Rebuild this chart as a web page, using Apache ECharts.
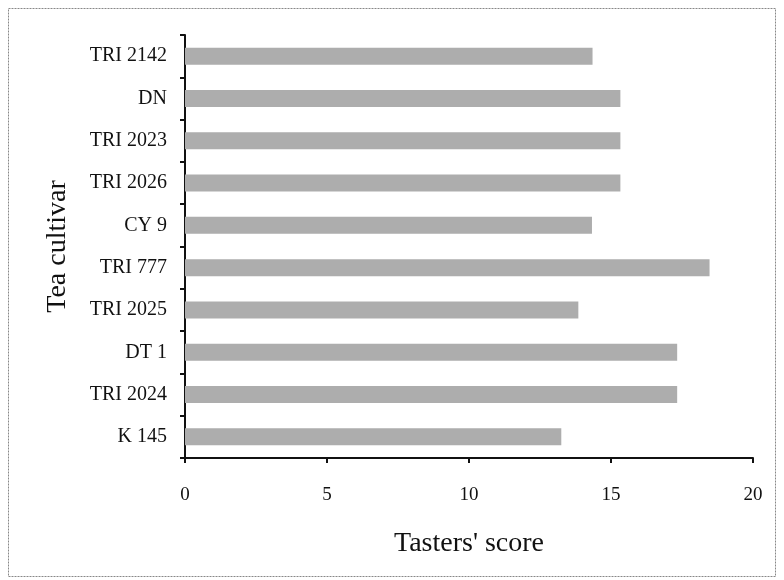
<!DOCTYPE html>
<html>
<head>
<meta charset="utf-8">
<script src="https://cdn.jsdelivr.net/npm/echarts@6/dist/echarts.min.js"></script>
<style>html,body{margin:0;padding:0;background:#fff}#c{width:784px;height:580px}</style>
</head>
<body>
<div id="c"></div>
<script>
// Categories listed bottom to top
var cultivars = ["K 145", "TRI 2024", "DT 1", "TRI 2025", "TRI 777", "CY 9", "TRI 2026", "TRI 2023", "DN", "TRI 2142"];
var scores = [13.25, 17.33, 17.33, 13.85, 18.47, 14.33, 15.33, 15.33, 15.33, 14.35];
var xTicks = [0, 5, 10, 15, 20];

var chart = echarts.init(document.getElementById('c'), null, {renderer: 'canvas'});
var font = 'Liberation Serif, Times New Roman, serif';
chart.setOption({
  backgroundColor: '#fff',
  animation: false,
  graphic: [{
    type: 'rect',
    shape: {x: 8.5, y: 8.5, width: 767, height: 568},
    style: {fill: 'none', stroke: '#888', lineWidth: 1, lineDash: [2, 1]},
    z: -1
  }],
  grid: {left: 185, right: 31, top: 35, bottom: 122},
  xAxis: {
    type: 'value',
    min: xTicks[0], max: xTicks[xTicks.length - 1], interval: 5,
    splitLine: {show: false},
    axisLine: {show: true, lineStyle: {color: '#111', width: 2}},
    axisTick: {show: true, length: 5, lineStyle: {color: '#111', width: 2}},
    axisLabel: {color: '#111', fontFamily: font, fontSize: 19, margin: 28},
    name: "Tasters' score",
    nameLocation: 'middle',
    nameGap: 72,
    nameTextStyle: {color: '#111', fontFamily: font, fontSize: 28}
  },
  yAxis: {
    type: 'category',
    data: cultivars,
    axisLine: {show: true, lineStyle: {color: '#111', width: 2}},
    axisTick: {show: true, length: 5, lineStyle: {color: '#111', width: 2}},
    axisLabel: {color: '#111', fontFamily: font, fontSize: 20, margin: 18},
    name: 'Tea cultivar',
    nameLocation: 'middle',
    nameGap: 113,
    nameRotate: 90,
    nameTextStyle: {color: '#111', fontFamily: font, fontSize: 28}
  },
  series: [{
    type: 'bar',
    data: scores,
    barWidth: 17,
    itemStyle: {color: '#adadad'}
  }]
});
</script>
</body>
</html>
